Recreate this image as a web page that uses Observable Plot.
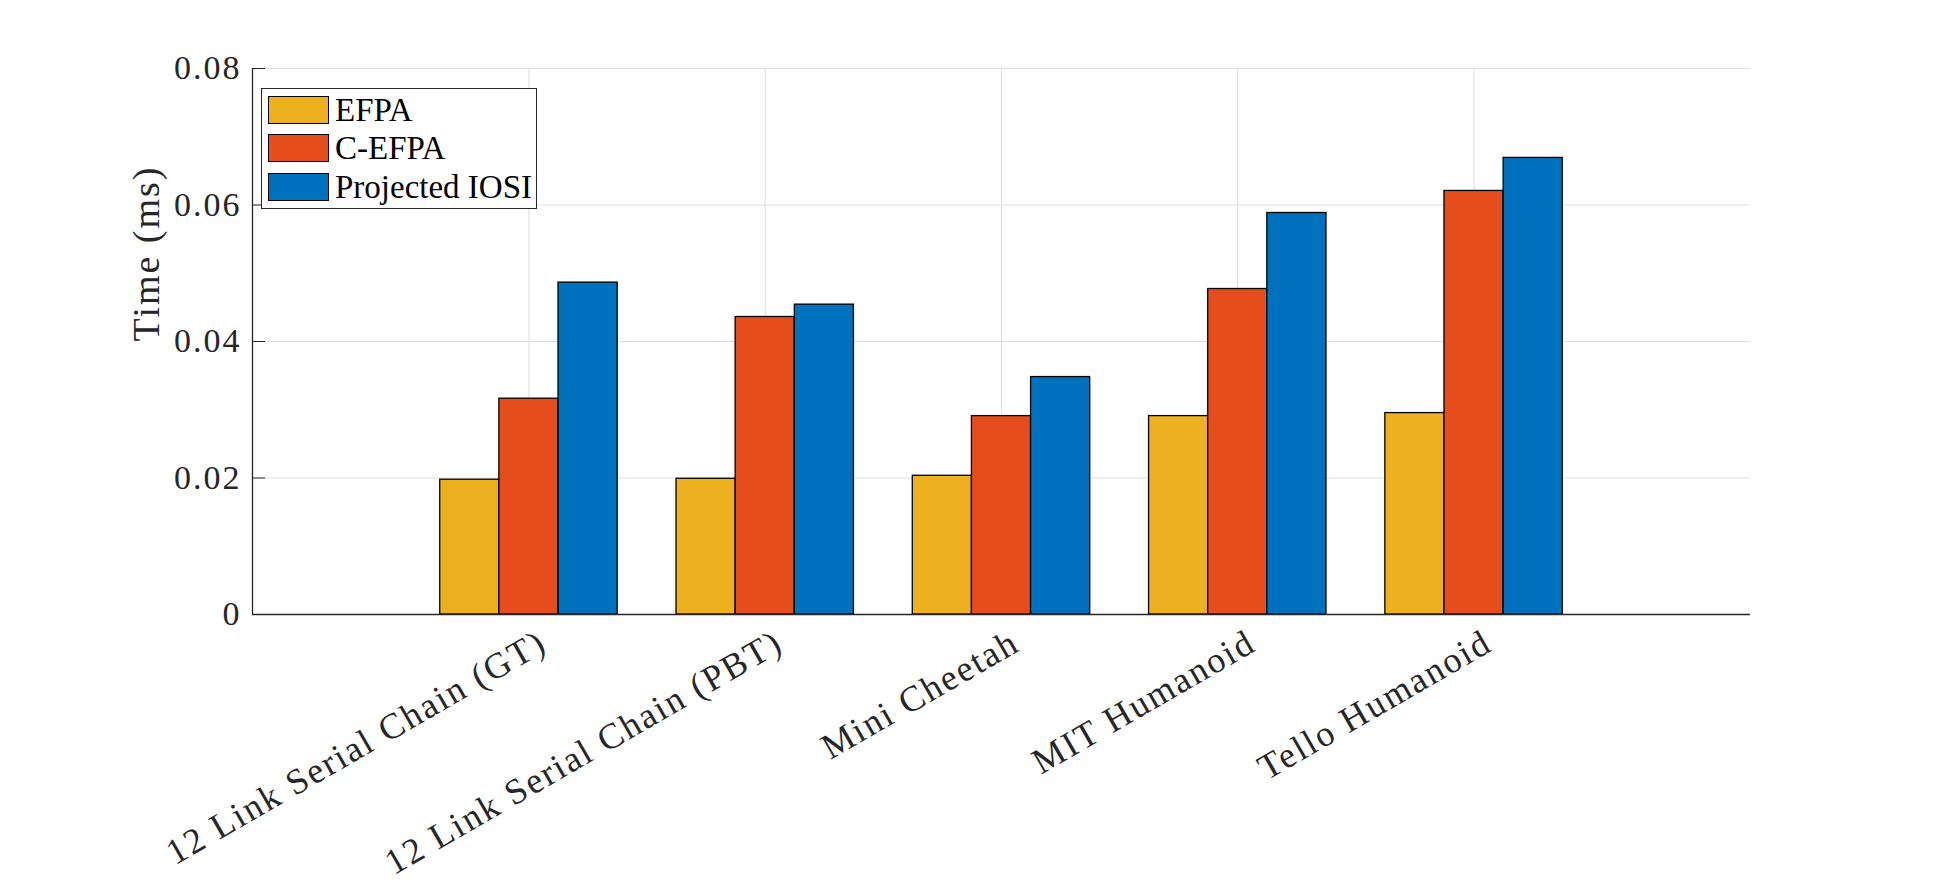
<!DOCTYPE html>
<html>
<head>
<meta charset="utf-8">
<script src="https://cdn.jsdelivr.net/npm/d3@7"></script>
<script src="https://cdn.jsdelivr.net/npm/@observablehq/plot@0.6"></script>
<style>
  html, body { margin: 0; padding: 0; background: #fff; }
  #wrap { position: relative; width: 1934px; height: 884px; font-family: "Liberation Serif", serif; }
  #legend { position: absolute; left: 261px; top: 88px; width: 276px; height: 121px; border: 1px solid #262626; background: #fff; box-sizing: border-box; }
  .row { position: absolute; left: 6px; height: 28px; display: flex; align-items: center; }
  .sw { width: 61px; height: 28px; border: 1px solid #000; box-sizing: border-box; flex: none; }
  .lab { margin-left: 6px; font-size: 33px; color: #000; line-height: 28px; white-space: nowrap; }
</style>
</head>
<body>
<div id="wrap"></div>
<script>
const categories = ["12 Link Serial Chain (GT)", "12 Link Serial Chain (PBT)", "Mini Cheetah", "MIT Humanoid", "Tello Humanoid"];
const seriesNames = ["EFPA", "C-EFPA", "Projected IOSI"];
const efpa = [0.01975, 0.01989, 0.02033, 0.02907, 0.02951];
const cefpa = [0.03162, 0.04359, 0.02907, 0.04769, 0.06206];
const iosi = [0.04863, 0.04540, 0.03479, 0.05883, 0.06690];
const colors = ["#EDB120", "#E54E1C", "#0072BD"];
const yTicks = [0, 0.02, 0.04, 0.06, 0.08];

const seriesValues = [efpa, cefpa, iosi];
const data = [];
categories.forEach((c, i) => {
  seriesNames.forEach((s, j) => {
    data.push({category: c, pos: i + 1, series: s, sIndex: j, value: seriesValues[j][i]});
  });
});

const barW = 0.2503;
const groupW = barW * seriesNames.length;

const chart = Plot.plot({
  width: 1934,
  height: 884,
  marginLeft: 252,
  marginRight: 184,
  marginTop: 68,
  marginBottom: 270,
  style: {fontFamily: "Liberation Serif, serif", background: "#fff", letterSpacing: "2px"},
  x: {type: "linear", domain: [-0.17, 6.17], axis: null},
  y: {domain: [0, 0.08], axis: null},
  color: {domain: seriesNames, range: colors},
  marks: [
    Plot.gridX(categories.map((c, i) => i + 1), {stroke: "#dedede", strokeOpacity: 1, strokeWidth: 1}),
    Plot.gridY(yTicks.slice(1), {stroke: "#dedede", strokeOpacity: 1, strokeWidth: 1}),
    Plot.rectY(data, {
      x1: d => d.pos - groupW / 2 + d.sIndex * barW,
      x2: d => d.pos - groupW / 2 + (d.sIndex + 1) * barW,
      y1: 0,
      y2: "value",
      fill: "series",
      stroke: "#000",
      strokeWidth: 1.3
    }),
    Plot.axisY(yTicks, {
      tickSize: -13,
      tickPadding: 24,
      stroke: "#262626",
      fontSize: 34,
      fill: "#262626",
      tickFormat: d => d === 0 ? "0" : d3.format(".2f")(d),
      label: null
    }),
    Plot.ruleX([-0.17], {stroke: "#262626", strokeWidth: 1.3}),
    Plot.ruleY([0], {stroke: "#262626", strokeWidth: 1.3}),
    Plot.text(categories, {
      x: (d, i) => i + 1,
      y: 0,
      text: d => d,
      rotate: -30,
      textAnchor: "end",
      lineAnchor: "bottom",
      dx: 20,
      dy: 35,
      fontSize: 36,
      fill: "#262626"
    }),
    Plot.text(["Time (ms)"], {
      frameAnchor: "left",
      dx: -106,
      rotate: -90,
      fontSize: 38,
      fill: "#262626"
    })
  ]
});

const wrap = document.getElementById("wrap");
wrap.appendChild(chart);

const legend = document.createElement("div");
legend.id = "legend";
seriesNames.forEach((s, j) => {
  const row = document.createElement("div");
  row.className = "row";
  row.style.top = (7 + j * 38.3) + "px";
  const sw = document.createElement("div");
  sw.className = "sw";
  sw.style.background = colors[j];
  const lab = document.createElement("span");
  lab.className = "lab";
  lab.textContent = s;
  row.appendChild(sw);
  row.appendChild(lab);
  legend.appendChild(row);
});
wrap.appendChild(legend);
</script>
</body>
</html>
